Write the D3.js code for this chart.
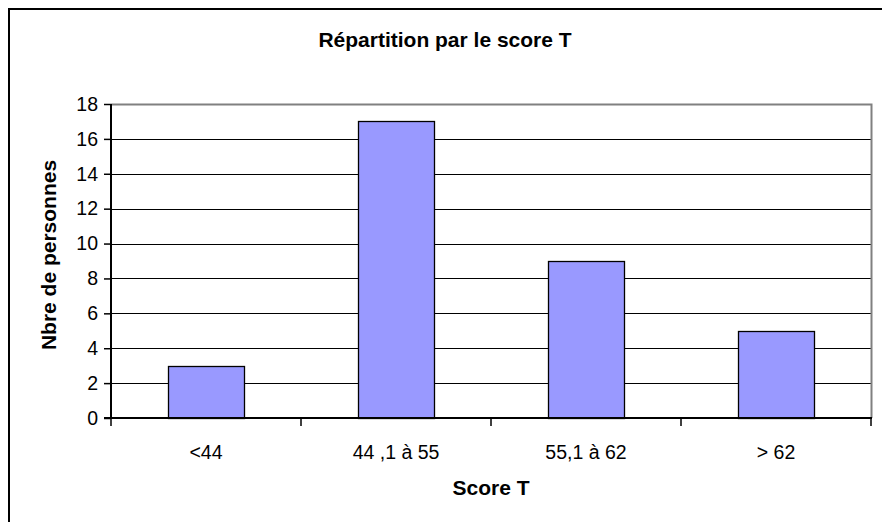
<!DOCTYPE html>
<html>
<head>
<meta charset="utf-8">
<script src="https://cdn.jsdelivr.net/npm/d3@7"></script>
<style>
  html, body { margin: 0; padding: 0; background: #fff; }
  svg { display: block; }
  text { font-family: "Liberation Sans", Arial, sans-serif; fill: #000; }
</style>
</head>
<body>
<svg id="chart" width="882" height="522"></svg>
<script>
const categories = ["<44", "44 ,1 à 55", "55,1 à 62", "> 62"];
const values = [3, 17, 9, 5];
const yTicks = [0, 2, 4, 6, 8, 10, 12, 14, 16, 18];
const chartTitle = "Répartition par le score T";
const xTitle = "Score T";
const yTitle = "Nbre de personnes";

const svg = d3.select("#chart");
const plot = { left: 111, right: 871, top: 104, bottom: 418 };

// outer chart border (extends beyond the visible area on right/bottom)
svg.append("rect").attr("x", 9).attr("y", 9).attr("width", 1000).attr("height", 1000)
  .attr("fill", "#fff").attr("stroke", "#000").attr("stroke-width", 2);

const x = d3.scaleBand().domain(categories).range([plot.left, plot.right])
  .paddingInner(0.6).paddingOuter(0.3);
const y = d3.scaleLinear().domain([0, 18]).range([plot.bottom, plot.top]);
const py = v => Math.round(y(v)) + 0.5;

// gridlines
svg.append("g").selectAll("line").data(yTicks.filter(v => v > 0 && v < 18)).join("line")
  .attr("x1", plot.left).attr("x2", plot.right)
  .attr("y1", py).attr("y2", py)
  .attr("stroke", "#000").attr("stroke-width", 1);

// plot area border top/right (gray)
svg.append("path")
  .attr("d", `M${plot.left},${plot.top + 0.5}H${plot.right + 0.5}V${plot.bottom}`)
  .attr("fill", "none").attr("stroke", "#808080").attr("stroke-width", 2);

// bars
svg.append("g").selectAll("rect").data(values).join("rect")
  .attr("x", (d, i) => Math.round(x(categories[i])) + 0.5)
  .attr("y", d => Math.round(y(d)) + 0.5)
  .attr("width", Math.round(x.bandwidth()))
  .attr("height", d => Math.round(y(0)) - Math.round(y(d)))
  .attr("fill", "#9999FF").attr("stroke", "#000").attr("stroke-width", 1.3);

// y axis
const yAxis = svg.append("g").attr("transform", `translate(${plot.left},0)`)
  .call(d3.axisLeft(y).tickValues(yTicks).tickSize(7).tickPadding(6).tickFormat(d3.format("d")));
yAxis.select(".domain").remove();
yAxis.selectAll(".tick line").attr("stroke", "#000").attr("stroke-width", 1.5);
yAxis.selectAll(".tick text").attr("font-size", "19.5px").attr("font-family", "'Liberation Sans', Arial, sans-serif").attr("fill", "#000");
svg.append("line").attr("x1", plot.left).attr("x2", plot.left)
  .attr("y1", plot.top).attr("y2", plot.bottom + 1)
  .attr("stroke", "#000").attr("stroke-width", 2);

// x axis
const step = x.step();
const bounds = d3.range(categories.length + 1).map(i => plot.left + i * step);
svg.append("g").selectAll("line").data(bounds).join("line")
  .attr("x1", d => Math.round(d)).attr("x2", d => Math.round(d))
  .attr("y1", plot.bottom).attr("y2", plot.bottom + 8)
  .attr("stroke", "#000").attr("stroke-width", 1.5);
svg.append("line").attr("x1", plot.left - 7).attr("x2", plot.right + 1)
  .attr("y1", plot.bottom).attr("y2", plot.bottom)
  .attr("stroke", "#000").attr("stroke-width", 2);
svg.append("g").selectAll("text").data(categories).join("text")
  .attr("x", d => x(d) + x.bandwidth() / 2).attr("y", 459)
  .attr("text-anchor", "middle").attr("font-size", "19.5px").text(d => d);

// titles
svg.append("text").attr("x", 445).attr("y", 47).attr("text-anchor", "middle")
  .attr("font-size", "21px").attr("font-weight", "bold").text(chartTitle);
svg.append("text").attr("x", (plot.left + plot.right) / 2).attr("y", 495).attr("text-anchor", "middle")
  .attr("font-size", "21px").attr("font-weight", "bold").text(xTitle);
svg.append("text").attr("transform", `translate(56,255) rotate(-90)`)
  .attr("text-anchor", "middle")
  .attr("font-size", "21px").attr("font-weight", "bold").text(yTitle);
</script>
</body>
</html>
